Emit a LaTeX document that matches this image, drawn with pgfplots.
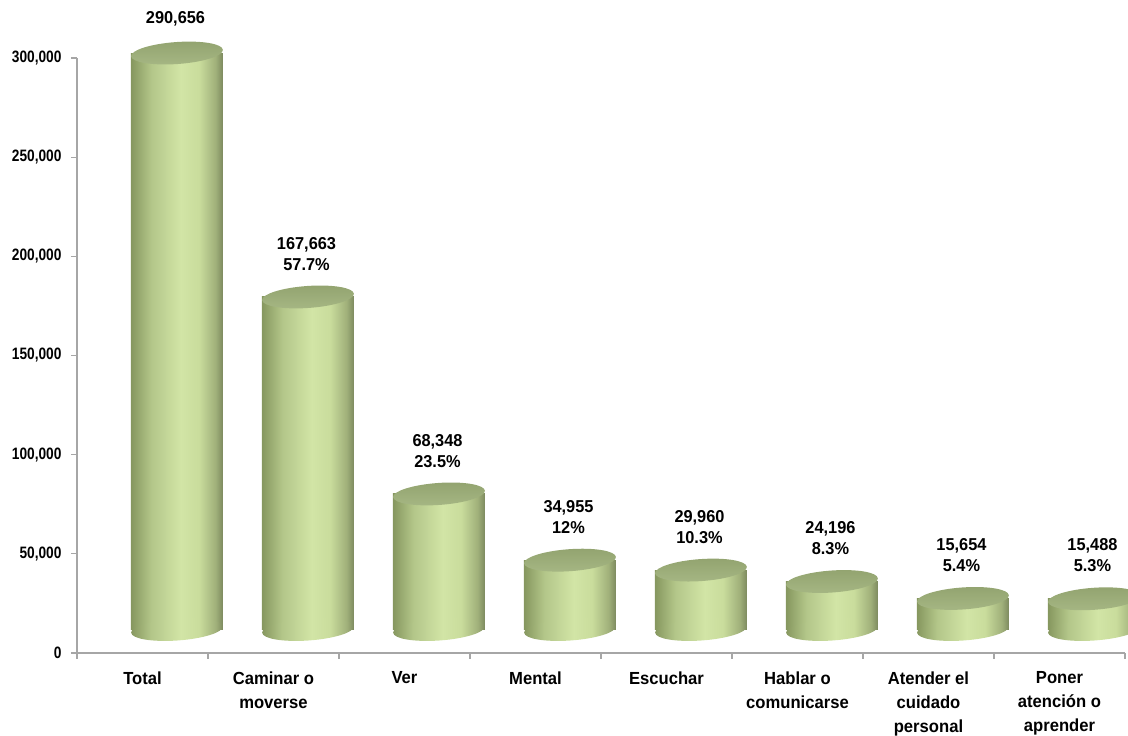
\documentclass[border=0pt]{standalone}
\usepackage{pgfplots}
\pgfplotsset{compat=1.18}
\usepackage{fontspec}
\setmainfont{Liberation Sans}[FakeStretch=0.95]
\newfontfamily\tickfont{Liberation Sans}[FakeStretch=0.83]

\definecolor{cylA}{HTML}{86975F}
\definecolor{cylB}{HTML}{B3C689}
\definecolor{cylC}{HTML}{D2E5A6}
\definecolor{cylD}{HTML}{C9DC9C}
\definecolor{cylE}{HTML}{A0B07A}
\definecolor{cylF}{HTML}{7C895E}
\definecolor{topA}{HTML}{92A36F}
\definecolor{topB}{HTML}{A6B784}
\definecolor{axgray}{HTML}{A6A6A6}

\pgfdeclarehorizontalshading{cyl}{100bp}{color(0bp)=(cylA); color(25bp)=(cylA); color(36bp)=(cylB); color(52bp)=(cylC); color(62bp)=(cylD); color(71bp)=(cylE); color(75bp)=(cylF); color(100bp)=(cylF)}
\pgfdeclareverticalshading{topsh}{100bp}{color(0bp)=(topB); color(25bp)=(topB); color(75bp)=(topA); color(100bp)=(topA)}

\pgfdeclareplotmark{cylbottom}{%
  \pgfscope
  \pgftransformshift{\pgfpoint{34.5pt}{23.5pt}}%
  \pgftransformrotate{4}%
  \pgfpathellipse{\pgfpointorigin}{\pgfpoint{46pt}{0pt}}{\pgfpoint{0pt}{11pt}}%
  \pgfshadepath{cyl}{0}%
  \pgfusepath{}%
  \endpgfscope
}
\pgfdeclareplotmark{cyltop}{%
  \pgfscope
  \pgftransformshift{\pgfpoint{34.5pt}{23.5pt}}%
  \pgftransformrotate{4}%
  \pgfpathellipse{\pgfpointorigin}{\pgfpoint{46pt}{0pt}}{\pgfpoint{0pt}{11pt}}%
  \pgfshadepath{topsh}{0}%
  \pgfusepath{}%
  \endpgfscope
}

\pgfplotsset{body/.style={ybar, bar width=92pt, bar shift=34.5pt, yshift=23.5pt, draw=none, shading=cyl, forget plot}}

\begin{document}
\begin{tikzpicture}
\begin{axis}[
  width=1048pt, height=595pt, scale only axis,
  xmin=-0.5, xmax=7.5, ymin=0, ymax=300000,
  clip=false,
  axis x line*=bottom, axis y line*=left,
  axis line style={draw=axgray, line width=1.3pt, -},
  xtick={-0.5,0.5,...,7.5}, xticklabels={},
  extra x ticks={0,1,...,7},
  extra x tick labels={Total,{Caminar o\\moverse},Ver,Mental,Escuchar,{Hablar o\\comunicarse},{Atender el\\cuidado\\personal},{Poner\\atención o\\aprender}},
  extra x tick style={major tick length=0pt},
  xticklabel style={font=\bfseries\fontsize{17.5}{24}\selectfont, align=center, yshift=-15pt},
  ytick={0,50000,...,300000},
  scaled y ticks=false,
  yticklabel style={font=\tickfont\bfseries\fontsize{16.5}{18}\selectfont, xshift=-6pt},
  /pgf/number format/fixed,
  /pgf/number format/precision=0,
  /pgf/number format/1000 sep={,},
  /pgf/number format/assume math mode=true,
  tick align=outside, major tick length=6pt,
  tick style={draw=axgray, line width=1.3pt},
]
\coordinate (O) at (rel axis cs:0,0);
% bottom ellipses of the cylinders (floor)
\addplot[only marks, mark=cylbottom] coordinates {(0,0) (1,0) (2,0) (3,0) (4,0) (5,0) (6,0) (7,0)};
% cylinder bodies (one plot per bar so each gets its own shading)
\addplot[body] coordinates {(0,290656)};
\addplot[body] coordinates {(1,167663)};
\addplot[body] coordinates {(2,68348)};
\addplot[body] coordinates {(3,34955)};
\addplot[body] coordinates {(4,29960)};
\addplot[body] coordinates {(5,24196)};
\addplot[body] coordinates {(6,15654)};
\addplot[body] coordinates {(7,15488)};
% top ellipses with value labels
\addplot[only marks, mark=cyltop, point meta=explicit symbolic,
  nodes near coords,
  nodes near coords style={anchor=south, inner sep=0pt, xshift=33pt, yshift=50pt, align=center,
    font=\bfseries\fontsize{17.2}{21}\selectfont, text=black}]
  coordinates {
  (0,290656) [290,656]
  (1,167663) [167,663\\57.7\%]
  (2,68348) [68,348\\23.5\%]
  (3,34955) [34,955\\12\%]
  (4,29960) [29,960\\10.3\%]
  (5,24196) [24,196\\8.3\%]
  (6,15654) [15,654\\5.4\%]
  (7,15488) [15,488\\5.3\%]
};
\end{axis}
\pgfresetboundingbox
\path[use as bounding box] ([shift={(-77pt,-83pt)}]O) rectangle ([shift={(1051pt,653pt)}]O);
\end{tikzpicture}
\end{document}
